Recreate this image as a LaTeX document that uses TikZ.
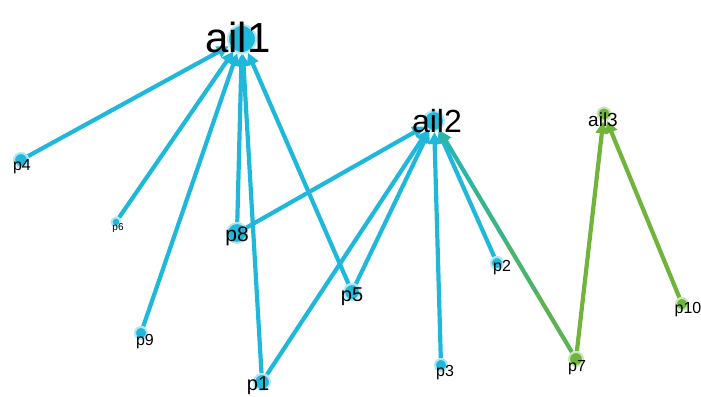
\documentclass[tikz,border=0pt]{standalone}
\usepackage{fontspec}
\setmainfont{Liberation Sans}
\usetikzlibrary{arrows.meta,backgrounds}
\definecolor{vblue}{HTML}{1FB8DA}
\definecolor{vgreen}{HTML}{70B43C}
\definecolor{vgA}{HTML}{5DB354}
\definecolor{vgB}{HTML}{4AB46E}
\definecolor{vgC}{HTML}{38B588}
\definecolor{vgD}{HTML}{2AB6A8}
\tikzset{
  dotb/.style={circle,fill=vblue,inner sep=0pt,draw=vblue!35,line width=2pt},
  dotg/.style={circle,fill=vgreen,inner sep=0pt,draw=vgreen!35,line width=2pt},
  lbl/.style={inner sep=0pt,text=black},
  eb/.style={draw=vblue,line width=4.2pt,-{Triangle[length=12pt,width=12pt]}},
  eg/.style={draw=vgreen,line width=4.2pt,-{Triangle[length=12pt,width=12pt]}},
  seg/.style={line width=4.2pt}
}
\begin{document}
\begin{tikzpicture}[x=1pt,y=-1pt]
\useasboundingbox (0,0) rectangle (701,396);
% dots
\node[dotb,minimum size=28pt] (ail1) at (242,39) {};
\node[dotb,minimum size=20pt] (ail2) at (434,121) {};
\node[dotg,minimum size=13pt] (ail3) at (604,114) {};
\node[dotb,minimum size=14pt] (p4) at (21,160) {};
\node[dotb,minimum size=9pt] (p6) at (116,222) {};
\node[dotb,minimum size=20pt] (p8) at (237,233) {};
\node[dotb,minimum size=16pt] (p5) at (352,292) {};
\node[dotb,minimum size=12pt] (p2) at (497,263) {};
\node[dotg,minimum size=14pt] (p7) at (576,359) {};
\node[dotg,minimum size=12pt] (p10) at (682,304) {};
\node[dotb,minimum size=16pt] (p1) at (262,382) {};
\node[dotb,minimum size=12pt] (p9) at (141,333) {};
\node[dotb,minimum size=12pt] (p3) at (441,365) {};
% edges
\begin{scope}[on background layer]
\draw[eb] (p4) -- (ail1);
\draw[eb] (p6) -- (ail1);
\draw[eb] (p9) -- (ail1);
\draw[eb] (p8) -- (ail1);
\draw[eb] (p1) -- (ail1);
\draw[eb] (p5) -- (ail1);
\draw[eb] (p8) -- (ail2);
\draw[eb] (p1) -- (ail2);
\draw[eb] (p5) -- (ail2);
\draw[eb] (p3) -- (ail2);
\draw[eb] (p2) -- (ail2);
\draw[eg] (p7) -- (ail3);
\draw[eg] (p10) -- (ail3);
\path (p7) -- (ail2) coordinate[pos=0] (g0) coordinate[pos=0.26] (g1)
  coordinate[pos=0.5] (g2) coordinate[pos=0.74] (g3);
\draw[seg,draw=vgA] (g0) -- (g1);
\draw[seg,draw=vgB] (g1) -- (g2);
\draw[seg,draw=vgC] (g2) -- (g3);
\draw[draw=vgD,line width=4.2pt,-{Triangle[length=12pt,width=12pt]}] (g3) -- (ail2);
\end{scope}
% labels
\node[lbl,font=\fontsize{42}{42}\selectfont] (tail1) at (238,37) {ail1};
\node[lbl,font=\fontsize{32}{32}\selectfont] (tail2) at (437,121) {ail2};
\node[lbl,font=\fontsize{19}{19}\selectfont] (tail3) at (603,120) {ail3};
\node[lbl,font=\fontsize{16}{16}\selectfont] (tp4) at (22,167) {p4};
\node[lbl,font=\fontsize{10}{10}\selectfont] (tp6) at (118,228) {p6};
\node[lbl,font=\fontsize{21}{21}\selectfont] (tp8) at (237,236) {p8};
\node[lbl,font=\fontsize{20}{20}\selectfont] (tp5) at (352,297) {p5};
\node[lbl,font=\fontsize{16}{16}\selectfont] (tp2) at (502,268) {p2};
\node[lbl,font=\fontsize{16}{16}\selectfont] (tp7) at (577,368) {p7};
\node[lbl,font=\fontsize{16}{16}\selectfont] (tp10) at (688,310) {p10};
\node[lbl,font=\fontsize{20}{20}\selectfont] (tp1) at (258,386) {p1};
\node[lbl,font=\fontsize{16}{16}\selectfont] (tp9) at (145,342) {p9};
\node[lbl,font=\fontsize{16}{16}\selectfont] (tp3) at (445,373) {p3};
\end{tikzpicture}
\end{document}
